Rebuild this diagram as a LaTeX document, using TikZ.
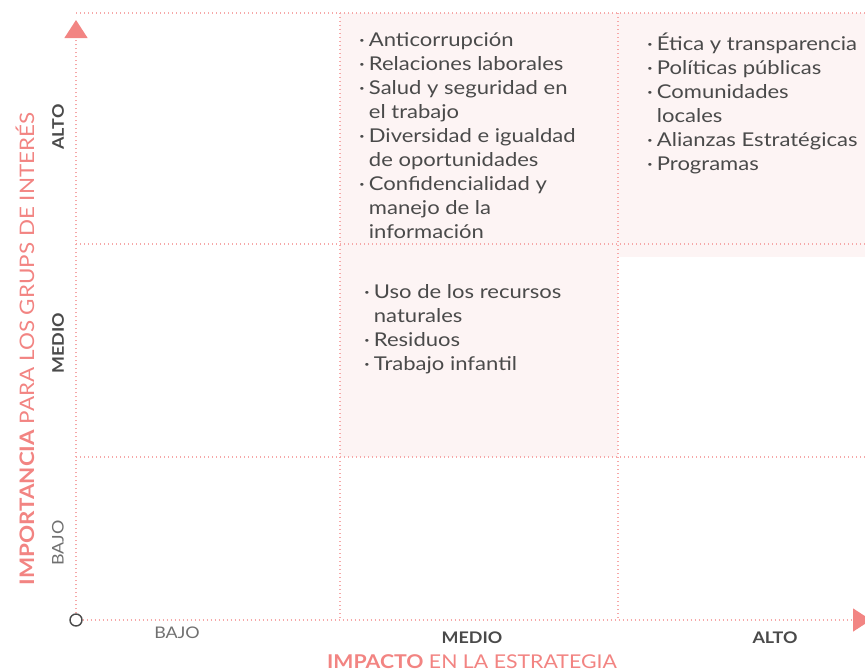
\documentclass[tikz,border=0pt]{standalone}
\usepackage{fontspec}
\setmainfont{Lato}[FakeStretch=1.12]
\newfontfamily\listfont{Lato}[FakeStretch=1.16]
\usetikzlibrary{arrows.meta}
\definecolor{gridpink}{HTML}{F6A8A8}
\definecolor{arrowpink}{HTML}{F28583}
\definecolor{titlepink}{HTML}{F28482}
\definecolor{darktext}{HTML}{4A4A4A}
\definecolor{graytext}{HTML}{707070}
\definecolor{cellshade}{HTML}{FDF4F4}
\newcommand{\bul}{\textperiodcentered}
\newcommand{\itemlist}[1]{\begin{tabular}{@{}l@{\hspace{4pt}}l@{}}#1\end{tabular}}
\tikzset{
  grid line/.style={draw=gridpink, line width=1.3pt, dash pattern=on 1.3pt off 2.7pt},
  axis tip/.style={-{Triangle[width=23pt,length=18pt,color=arrowpink]}},
  listbox/.style={anchor=north west, inner sep=0pt, text=darktext, font=\listfont\fontsize{19}{24}\selectfont},
  level bold/.style={text=darktext, font=\fontsize{16}{18}\selectfont\bfseries},
  level light/.style={text=graytext, font=\fontsize{16}{18}\selectfont},
  axis title/.style={text=titlepink, font=\fontsize{20}{22}\selectfont}
}
\begin{document}
\begin{tikzpicture}[x=1pt, y=-1pt]
  \useasboundingbox (0,0) rectangle (865,672);
  % shaded cells
  \fill[cellshade] (340,13) rectangle (865,257);
  \fill[cellshade] (340,257) rectangle (618,457);
  % grid
  \draw[grid line] (76,13) -- (865,13);
  \draw[grid line] (76,244) -- (865,244);
  \draw[grid line] (76,457) -- (865,457);
  \draw[grid line] (340,13) -- (340,620);
  \draw[grid line] (618,13) -- (618,620);
  % axes
  \node[circle, draw=darktext, line width=1.4pt, minimum size=12pt, inner sep=0pt] (origin) at (76,620) {};
  \coordinate (ytop) at (76,20);
  \coordinate (xend) at (871,620);
  \draw[grid line, axis tip] (origin) -- (ytop);
  \draw[grid line, axis tip] (origin) -- (xend);
  % vertical levels
  \node[level bold, rotate=90] (yalto) at (58,127) {ALTO};
  \node[level bold, rotate=90] (ymedio) at (58,343) {MEDIO};
  \node[level light, rotate=90] (ybajo) at (58,543) {BAJO};
  \node[axis title, rotate=90] (ytitle) at (25,349) {\textbf{IMPORTANCIA} PARA LOS GRUPS DE INTERÉS};
  % horizontal levels
  \node[level light] (xbajo) at (177,633) {BAJO};
  \node[level bold] (xmedio) at (472,638) {MEDIO};
  \node[level bold] (xalto) at (775,638) {ALTO};
  \node[axis title, font=\fontsize{19}{21}\selectfont] (xtitle) at (472,662) {\textbf{IMPACTO} EN LA ESTRATEGIA};
  % lists
  \node[listbox] (topmid) at (359,29) {\itemlist{
    \bul & Anticorrupción\\
    \bul & Relaciones laborales\\
    \bul & Salud y seguridad en\\
         & el trabajo\\
    \bul & Diversidad e igualdad\\
         & de oportunidades\\
    \bul & Confidencialidad y\\
         & manejo de la\\
         & información}};
  \node[listbox] (topright) at (647,33) {\itemlist{
    \bul & Ética y transparencia\\
    \bul & Políticas públicas\\
    \bul & Comunidades\\
         & locales\\
    \bul & Alianzas Estratégicas\\
    \bul & Programas}};
  \node[listbox] (midmid) at (364,281) {\itemlist{
    \bul & Uso de los recursos\\
         & naturales\\
    \bul & Residuos\\
    \bul & Trabajo infantil}};
\end{tikzpicture}
\end{document}
